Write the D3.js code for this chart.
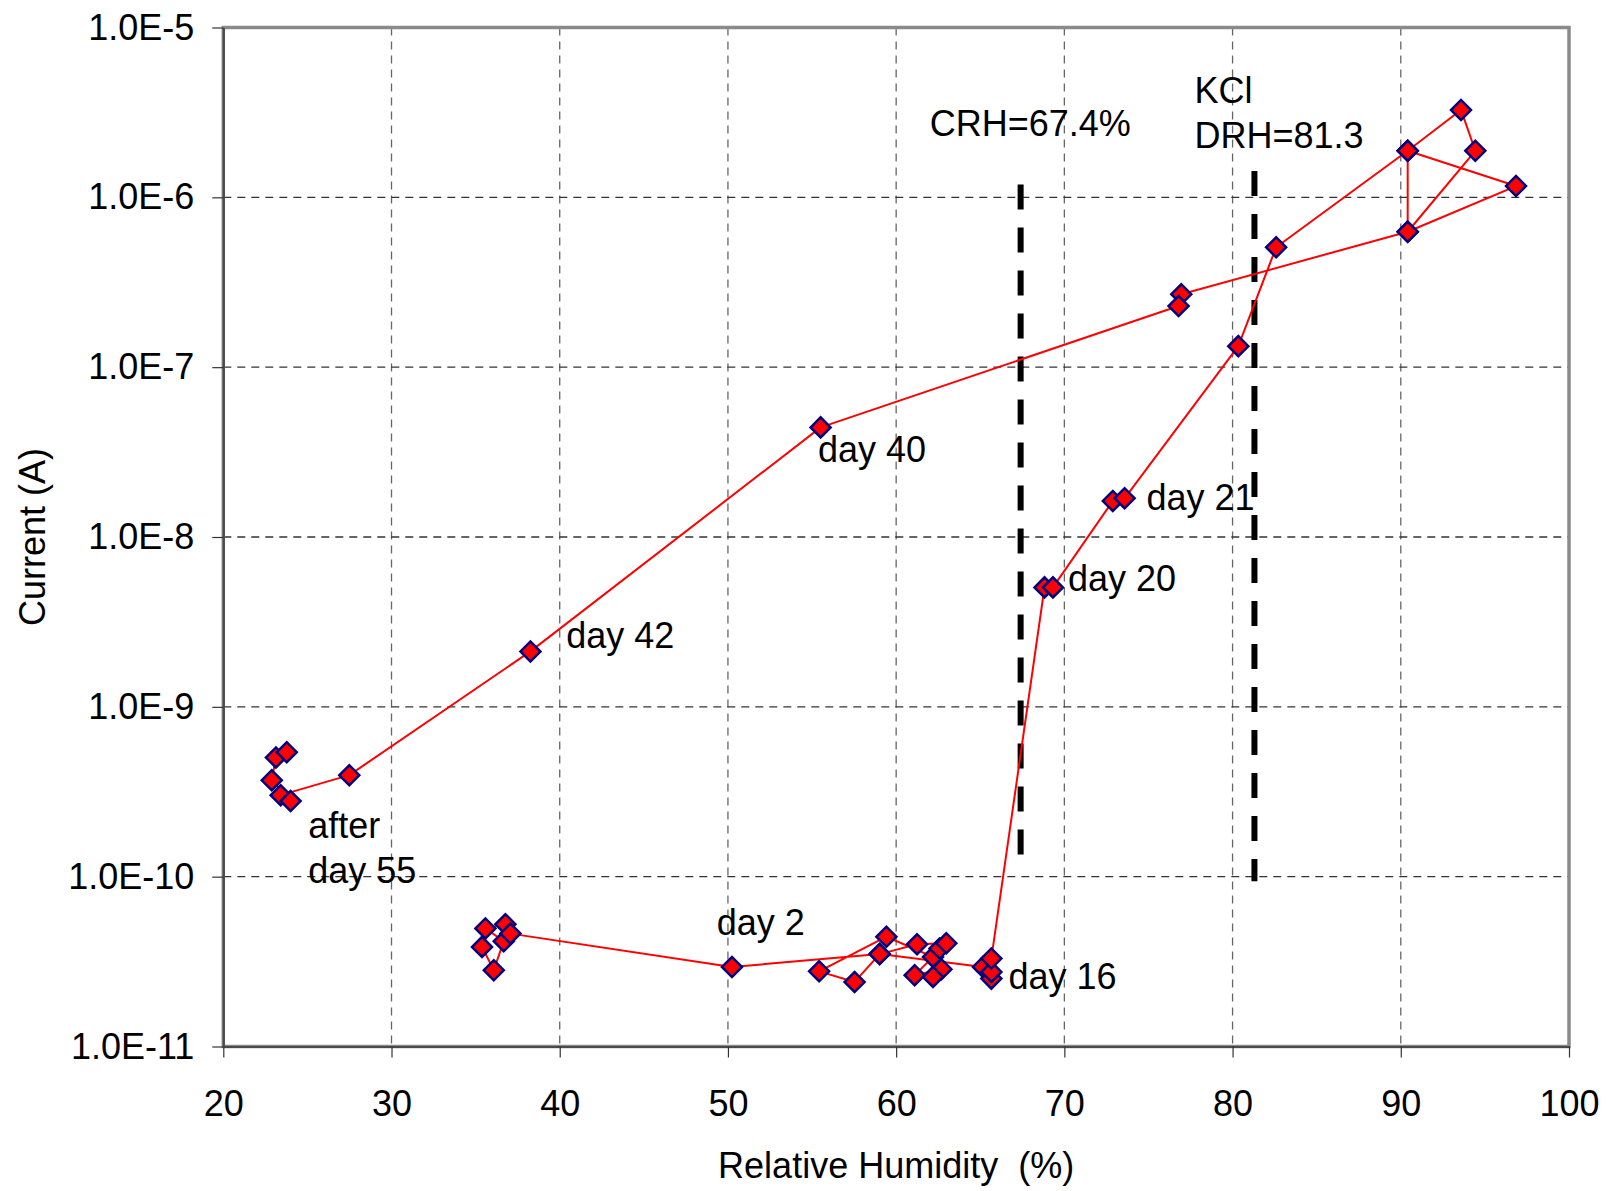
<!DOCTYPE html>
<html>
<head>
<meta charset="utf-8">
<script src="https://cdn.jsdelivr.net/npm/d3@7"></script>
<style>
  html, body { margin: 0; padding: 0; background: #ffffff; }
  svg { display: block; }
  text { font-family: "Liberation Sans", Arial, Helvetica, sans-serif; fill: #000; }
</style>
</head>
<body>
<svg id="chart" width="1606" height="1191"></svg>
<script>
// Relative humidity (%) and measured current (A), in measurement order
const rh = [
  35.38, 36.08, 36.67, 35.58, 36.77, 37.07,
  50.24,
  59.02, 57.53, 55.42, 59.42, 62.19, 61.10, 62.69, 62.19, 62.58, 62.98, 61.24, 59.02,
  65.16, 65.66, 65.66, 65.66,
  68.82, 69.32, 72.88, 73.58, 80.34, 82.59,
  90.41, 93.58, 94.43, 90.41, 90.41, 96.85, 90.41,
  76.95, 76.79, 55.51, 38.26, 27.49,
  23.41, 24.00, 22.88, 23.13, 23.77
];
const current = [
  3.86e-11, 2.81e-11, 4.17e-11, 4.95e-11, 5.25e-11, 4.62e-11,
  2.94e-11,
  3.50e-11, 2.40e-11, 2.77e-11, 4.43e-11, 3.37e-11, 2.63e-11, 2.85e-11, 2.57e-11, 3.78e-11, 4.05e-11, 4.00e-11, 3.50e-11,
  2.94e-11, 2.51e-11, 2.75e-11, 3.30e-11,
  5.05e-9, 5.05e-9, 1.63e-8, 1.69e-8, 1.33e-7, 5.08e-7,
  1.88e-6, 3.27e-6, 1.88e-6, 6.27e-7, 1.88e-6, 1.165e-6, 6.27e-7,
  2.69e-7, 2.29e-7, 4.42e-8, 2.12e-9, 3.96e-10,
  3.02e-10, 2.79e-10, 3.70e-10, 5.03e-10, 5.41e-10
];

// Axis ticks
const xTicks = [20, 30, 40, 50, 60, 70, 80, 90, 100];
const yTicks = [1e-11, 1e-10, 1e-9, 1e-8, 1e-7, 1e-6, 1e-5];
const yTickLabels = ["1.0E-11", "1.0E-10", "1.0E-9", "1.0E-8", "1.0E-7", "1.0E-6", "1.0E-5"];

// Critical / deliquescence humidity markers: RH and the current span they cover
const refLines = [
  { rh: 67.4, upper: 1.19e-6, lower: 1.34e-10 },
  { rh: 81.3, upper: 1.43e-6, lower: 9.4e-11 }
];

// Text notes, anchored (left, baseline) at an RH / current position
const notes = [
  { text: "CRH=67.4%", rh: 62.0, current: 2.30e-6 },
  { text: "KCl", rh: 77.74, current: 3.59e-6 },
  { text: "DRH=81.3", rh: 77.74, current: 1.94e-6 },
  { text: "day 40", rh: 55.35, current: 2.77e-8 },
  { text: "day 21", rh: 74.88, current: 1.45e-8 },
  { text: "day 20", rh: 70.21, current: 4.82e-9 },
  { text: "day 42", rh: 40.39, current: 2.22e-9 },
  { text: "after", rh: 25.05, current: 1.68e-10 },
  { text: "day 55", rh: 25.05, current: 9.2e-11 },
  { text: "day 2", rh: 49.33, current: 4.53e-11 },
  { text: "day 16", rh: 66.68, current: 2.18e-11 }
];

const svg = d3.select("#chart");
const plotL = 223.3, plotR = 1569, plotT = 27.5, plotB = 1046.5;

const x = d3.scaleLinear().domain([20, 100]).range([plotL, plotR]);
const y = d3.scaleLog().domain([1e-11, 1e-5]).range([plotB, plotT]);

// Grid
const grid = svg.append("g");
grid.selectAll("line.vg")
  .data(xTicks.filter(v => v > 20 && v < 100))
  .join("line")
  .attr("x1", d => x(d)).attr("x2", d => x(d))
  .attr("y1", plotT).attr("y2", plotB)
  .attr("stroke", "#666").attr("stroke-width", 1.3)
  .attr("stroke-dasharray", "8,6");
grid.selectAll("line.hg")
  .data(yTicks.filter(v => v > 1e-11 && v < 1e-5))
  .join("line")
  .attr("x1", plotL).attr("x2", plotR)
  .attr("y1", d => y(d)).attr("y2", d => y(d))
  .attr("stroke", "#333").attr("stroke-width", 1.3)
  .attr("stroke-dasharray", "8,6");

// Plot frame
svg.append("rect")
  .attr("x", plotL).attr("y", plotT)
  .attr("width", plotR - plotL).attr("height", plotB - plotT)
  .attr("fill", "none").attr("stroke", "#8a8a8a").attr("stroke-width", 3.5);

// Axes
const xAxis = d3.axisBottom(x).tickValues(xTicks).tickFormat(d3.format("d"))
  .tickSize(11).tickSizeOuter(0).tickPadding(33);
const yAxis = d3.axisLeft(y).tickValues(yTicks).tickFormat((d, i) => yTickLabels[i])
  .tickSize(11).tickSizeOuter(0).tickPadding(18);

const gx = svg.append("g").attr("transform", `translate(0,${plotB})`).call(xAxis);
const gy = svg.append("g").attr("transform", `translate(${plotL},0)`).call(yAxis);
[gx, gy].forEach(g => {
  g.select(".domain").attr("stroke", "#4a4a4a").attr("stroke-width", 2.2);
  g.selectAll(".tick line").attr("stroke", "#333").attr("stroke-width", 1.2);
  g.selectAll(".tick text")
    .attr("font-family", "'Liberation Sans', Arial, sans-serif")
    .attr("font-size", 36).attr("fill", "#000");
});

// Axis titles
svg.append("text")
  .attr("x", (plotL + plotR) / 2).attr("y", 1178)
  .attr("text-anchor", "middle").attr("font-size", 36)
  .attr("xml:space", "preserve")
  .text("Relative Humidity  (%)");
svg.append("text")
  .attr("transform", `translate(45,${(plotT + plotB) / 2}) rotate(-90)`)
  .attr("text-anchor", "middle").attr("font-size", 36)
  .text("Current (A)");

// Reference humidity lines
svg.selectAll("line.ref")
  .data(refLines)
  .join("line")
  .attr("x1", d => x(d.rh)).attr("x2", d => x(d.rh))
  .attr("y1", d => y(d.upper)).attr("y2", d => y(d.lower))
  .attr("stroke", "#000").attr("stroke-width", 6)
  .attr("stroke-dasharray", "25,18");

// Measurement trace
const pts = rh.map((v, i) => [v, current[i]]);
svg.append("path")
  .datum(pts)
  .attr("fill", "none").attr("stroke", "#ff0000").attr("stroke-width", 2)
  .attr("stroke-linejoin", "round")
  .attr("d", d3.line().x(d => x(d[0])).y(d => y(d[1])));

const diamond = d3.symbol().type(d3.symbolSquare).size(200);
svg.selectAll("path.pt")
  .data(pts)
  .join("path")
  .attr("d", diamond)
  .attr("transform", d => `translate(${x(d[0])},${y(d[1])}) rotate(45)`)
  .attr("fill", "#ff0000").attr("stroke", "#000080").attr("stroke-width", 2.5);

// Notes
svg.selectAll("text.note")
  .data(notes)
  .join("text")
  .attr("x", d => x(d.rh)).attr("y", d => y(d.current))
  .attr("font-size", 36).attr("fill", "#000")
  .text(d => d.text);
</script>
</body>
</html>
